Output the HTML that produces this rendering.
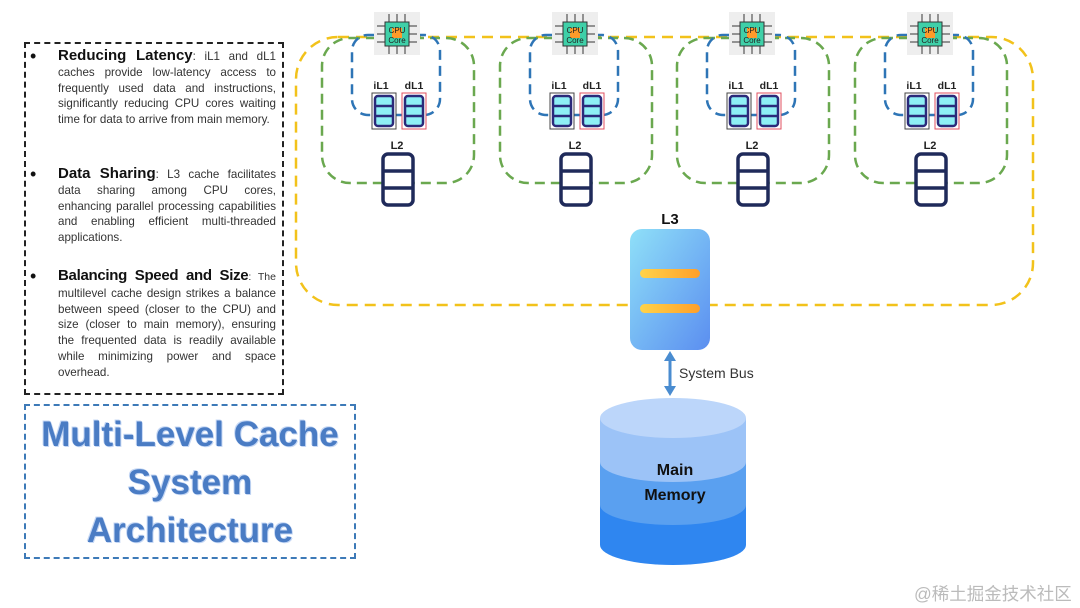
<!DOCTYPE html>
<html><head><meta charset="utf-8"><style>
body{margin:0;width:1080px;height:608px;background:#fff;position:relative;overflow:hidden;font-family:"Liberation Sans",sans-serif}
.box{position:absolute;left:24px;top:42px;width:260px;height:353px;border:2px dashed #222;box-sizing:border-box}
.p{position:absolute;left:58px;width:218px;font-size:11.6px;line-height:15.8px;color:#333;text-align:justify}
.p b{font-size:15px;color:#111}
.bul{position:absolute;left:30px;font-size:18px;color:#111}
.title{position:absolute;left:24px;top:404px;width:332px;height:155px;border:2px dashed #3d7ab8;box-sizing:border-box;text-align:center;font-weight:bold;font-size:35px;line-height:48px;color:#4a7cc4;padding-top:5px;text-shadow:0 0 1px #aac4ee,1px 1px 0 #c9daf5,-1px -1px 0 #c9daf5}
.wm{position:absolute;left:914px;top:581px;font-size:17.5px;color:#bbb;font-family:"Liberation Sans","Noto Sans CJK SC",sans-serif}
</style></head><body>
<div class="box"></div>
<div class="bul" style="top:46px">•</div>
<div class="p" style="top:48px"><b>Reducing Latency</b>: iL1 and dL1 caches provide low-latency access to frequently used data and instructions, significantly reducing CPU cores waiting time for data to arrive from main memory.</div>
<div class="bul" style="top:164px">•</div>
<div class="p" style="top:166px"><b>Data Sharing</b>: L3 cache facilitates data sharing among CPU cores, enhancing parallel processing capabilities and enabling efficient multi-threaded applications.</div>
<div class="bul" style="top:266px">•</div>
<div class="p" style="top:268px"><b style="letter-spacing:-0.3px">Balancing Speed and Size</b><span style="font-size:10.5px">: The</span> multilevel cache design strikes a balance between speed (closer to the CPU) and size (closer to main memory), ensuring the frequented data is readily available while minimizing power and space overhead.</div>
<div class="title">Multi-Level Cache<br>System<br>Architecture</div>
<div class="wm">@稀土掘金技术社区</div>
<svg width="1080" height="608" style="position:absolute;left:0;top:0">
<defs>
<linearGradient id="l3" x1="0" y1="0" x2="1" y2="1"><stop offset="0" stop-color="#8fe0f8"/><stop offset="1" stop-color="#5b8ef0"/></linearGradient>
<linearGradient id="bar" x1="0" x2="1"><stop offset="0" stop-color="#ffd34a"/><stop offset="1" stop-color="#ff9f2a"/></linearGradient>
<g id="grp">
<rect x="-75" y="38" width="152" height="145" rx="28" fill="none" stroke="#6aa84f" stroke-width="2.5" stroke-dasharray="10,6"/>
<rect x="-45" y="35" width="88" height="80" rx="16" fill="none" stroke="#2e75b6" stroke-width="2.5" stroke-dasharray="10,6"/>
<rect x="-23" y="12" width="46" height="43" fill="#eee"/>
<g stroke="#555" stroke-width="1.2">
<line x1="-8" y1="14" x2="-8" y2="22"/><line x1="0" y1="14" x2="0" y2="22"/><line x1="8" y1="14" x2="8" y2="22"/>
<line x1="-8" y1="46" x2="-8" y2="54"/><line x1="0" y1="46" x2="0" y2="54"/><line x1="8" y1="46" x2="8" y2="54"/>
<line x1="-20" y1="26" x2="-12" y2="26"/><line x1="-20" y1="34" x2="-12" y2="34"/><line x1="-20" y1="42" x2="-12" y2="42"/>
<line x1="12" y1="26" x2="20" y2="26"/><line x1="12" y1="34" x2="20" y2="34"/><line x1="12" y1="42" x2="20" y2="42"/>
</g>
<rect x="-12" y="22" width="24" height="24" fill="#3fd0a8" stroke="#333" stroke-width="1"/>
<rect x="-5" y="28" width="10" height="10" fill="#ff9a2a"/>
<text x="0" y="33" font-size="8" text-anchor="middle" fill="#222">CPU</text>
<text x="0" y="43" font-size="8" text-anchor="middle" fill="#222">Core</text>
<text x="-16" y="89" font-size="10.5" font-weight="bold" text-anchor="middle" fill="#222">iL1</text>
<text x="17" y="89" font-size="10.5" font-weight="bold" text-anchor="middle" fill="#222">dL1</text>
<rect x="-25" y="93" width="24" height="36" fill="#fff" stroke="#444" stroke-width="1"/>
<rect x="5" y="93" width="24" height="36" fill="#fff" stroke="#e05060" stroke-width="1"/>
<rect x="-22" y="96" width="18" height="30" rx="3" fill="#8ef0f5" stroke="#2a2a7a" stroke-width="2.5"/>
<line x1="-22" y1="106" x2="-4" y2="106" stroke="#2a2a7a" stroke-width="2.5"/><line x1="-22" y1="116" x2="-4" y2="116" stroke="#2a2a7a" stroke-width="2.5"/>
<rect x="8" y="96" width="18" height="30" rx="3" fill="#8ef0f5" stroke="#2a2a7a" stroke-width="2.5"/>
<line x1="8" y1="106" x2="26" y2="106" stroke="#2a2a7a" stroke-width="2.5"/><line x1="8" y1="116" x2="26" y2="116" stroke="#2a2a7a" stroke-width="2.5"/>
<text x="0" y="149" font-size="11" font-weight="bold" text-anchor="middle" fill="#222">L2</text>
<rect x="-14" y="154" width="30" height="51" rx="5" fill="#fff" stroke="#1f2a5a" stroke-width="3.5"/>
<line x1="-14" y1="171" x2="16" y2="171" stroke="#1f2a5a" stroke-width="3.5"/><line x1="-14" y1="188" x2="16" y2="188" stroke="#1f2a5a" stroke-width="3.5"/>
</g>
</defs>
<rect x="296" y="37" width="737" height="268" rx="42" fill="none" stroke="#f2c21b" stroke-width="2.5" stroke-dasharray="11,7"/>
<use href="#grp" x="397"/><use href="#grp" x="575"/><use href="#grp" x="752"/><use href="#grp" x="930"/>
<text x="670" y="224" font-size="15" font-weight="bold" text-anchor="middle" fill="#111">L3</text>
<rect x="630" y="229" width="80" height="121" rx="12" fill="url(#l3)"/>
<rect x="640" y="269" width="60" height="9" rx="4.5" fill="url(#bar)"/>
<rect x="640" y="304" width="60" height="9" rx="4.5" fill="url(#bar)"/>
<line x1="670" y1="358" x2="670" y2="389" stroke="#4a8cd0" stroke-width="3"/>
<polygon points="670,351 664,361 676,361" fill="#4a8cd0"/><polygon points="670,396 664,386 676,386" fill="#4a8cd0"/>
<text x="679" y="378" font-size="14" fill="#333">System Bus</text>
<path d="M600,418 V545 A73,20 0 0 0 746,545 V418 Z" fill="#2f86f0"/>
<path d="M600,418 V505 A73,20 0 0 0 746,505 V418 Z" fill="#5aa0f0"/>
<path d="M600,418 V462 A73,20 0 0 0 746,462 V418 Z" fill="#9cc3f7"/>
<ellipse cx="673" cy="418" rx="73" ry="20" fill="#bcd6fa"/>
<text x="675" y="475" font-size="16" font-weight="bold" text-anchor="middle" fill="#111">Main</text>
<text x="675" y="500" font-size="16" font-weight="bold" text-anchor="middle" fill="#111">Memory</text>
</svg>
</body></html>
